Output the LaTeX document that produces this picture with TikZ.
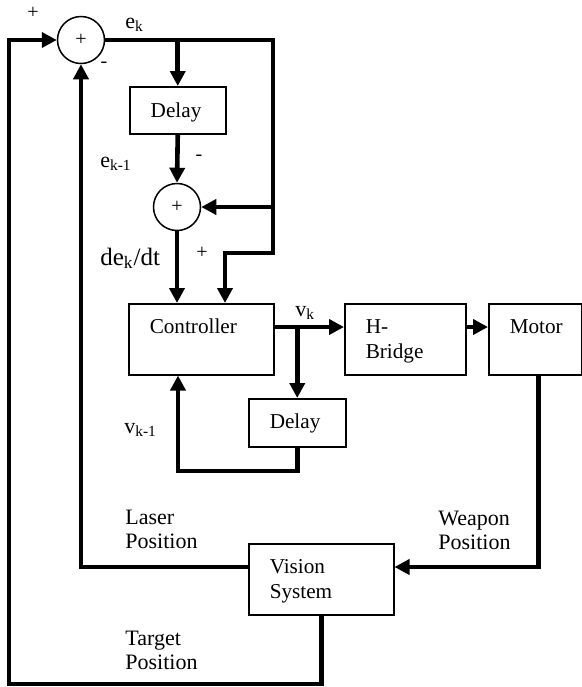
\documentclass[tikz,border=0pt]{standalone}
\usepackage{fontspec}
\setmainfont{Liberation Serif}
\usetikzlibrary{arrows.meta}
\hfuzz=6pt

\begin{document}
\begin{tikzpicture}[x=0.5pt, y=-0.5pt]
\fontsize{10.6}{12.3}\selectfont
\tikzset{blk/.style={rectangle, draw, line width=0.75pt, anchor=north west, align=left,
  inner xsep=10.5pt, inner ysep=0pt, text height=15pt, text depth=20.5pt, font=\fontsize{10.6}{12.3}\selectfont},
 sumnode/.style={circle, draw, line width=0.75pt, minimum size=23.5pt, inner sep=0pt, font=\fontsize{10}{11}\selectfont},
 lbl/.style={inner sep=0pt, anchor=base west, align=left, font=\fontsize{11}{12}\selectfont},
 sgn/.style={inner sep=0pt, font=\fontsize{10}{11}\selectfont},
 wire/.style={line width=2.3pt},
 arr/.style={wire, -{Triangle[length=7.5pt, width=7.5pt]}}}

\useasboundingbox (0,0) rectangle (582,687);

\node[sumnode] (s1) at (81,40) {+};
\node[sumnode] (s2) at (177,207) {+};
\node[blk, text width=27pt, text height=15.5pt, text depth=8pt] (d1) at (129,86) {Delay};
\node[blk, text width=51.5pt] (ctrl) at (128,303) {Controller};
\node[blk, text width=27.5pt, text depth=9pt] (d2) at (248,398) {Delay};
\node[blk, text width=39.5pt] (hb) at (344,303) {H-\\Bridge};
\node[blk, text width=25.5pt] (mot) at (488,303) {Motor};
\node[blk, text width=51.5pt] (vis) at (248,543) {Vision\\System};

\coordinate (c1) at (273,40);
\coordinate (c2) at (273,253);
\coordinate (c3) at (225,253);
\coordinate (c4) at (178,471);
\coordinate (c5) at (9,684);
\coordinate (cout) at ([yshift=-12pt]ctrl.north east);
\coordinate (cwp) at ([yshift=-12pt]vis.north east);
\coordinate (clp) at ([yshift=-12pt]vis.north west);

\draw[arr] (s1.east) -- (c1) -- (c2) -- (c3) -- (c3 |- ctrl.north);
\draw[arr] (s1.east -| d1.north) -- (d1.north);
\draw[arr] (s2.east -| c1) -- (s2.east);
\draw[arr] (d1.south) -- (s2.north);
\draw[arr] (s2.south) -- (s2.south |- ctrl.north);
\draw[arr] (cout) -- (cout -| hb.west);
\draw[arr] (cout -| d2.north) -- (d2.north);
\draw[arr] (d2.south) |- (c4) -- (c4 |- ctrl.south);
\draw[arr] (cout -| hb.east) -- (cout -| mot.west);
\draw[arr] ([xshift=1.5pt]mot.south) |- (cwp);
\draw[arr] (clp) -| (s1.south);
\draw[arr] (vis.south) |- (c5) |- (s1.west);

\node[sgn] (p1) at (33,13) {+};
\node[sgn] (m1) at (104,65) {-};
\node[lbl] (ek) at (125,28) {e\textsubscript{k}};
\node[lbl] (ek1) at (100,167) {e\textsubscript{k-1}};
\node[sgn] (m2) at (199,158) {-};
\node[sgn] (p2) at (202,253) {+};
\node[lbl, font=\fontsize{12.5}{14}\selectfont] (dedt) at (100,265) {de\textsubscript{k}/dt};
\node[lbl] (vk) at (295,316) {v\textsubscript{k}};
\node[lbl] (vk1) at (124,433) {v\textsubscript{k-1}};
\node[lbl, text width=40pt] (laser) at (125,524) {Laser\\Position};
\node[lbl, text width=40pt] (weapon) at (438,525) {Weapon\\Position};
\node[lbl, text width=40pt] (target) at (125,645) {Target\\Position};
\end{tikzpicture}
\end{document}
